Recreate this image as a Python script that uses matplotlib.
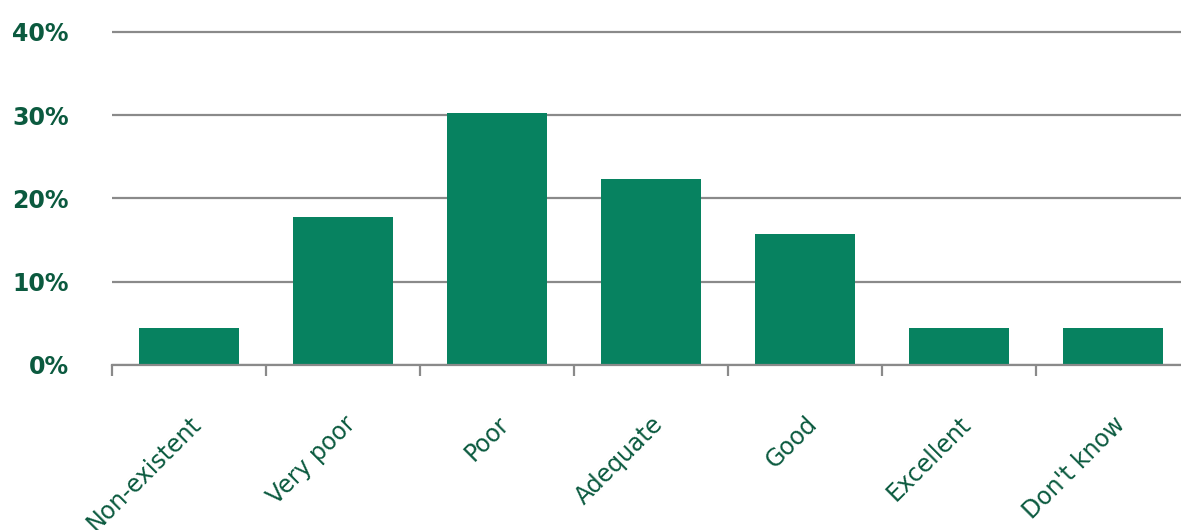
import numpy as np
import matplotlib.pyplot as plt

categorias = ['Non-existent', 'Very poor', 'Poor', 'Adequate', 'Good', 'Excellent', "Don't know"]
percentuais = [4.4, 17.8, 30.3, 22.4, 15.7, 4.4, 4.4]
ticks_y = [0, 10, 20, 30, 40]

verde_barra = '#078260'
verde_texto = '#0b5a3f'
cinza = '#8a8a8a'

y_max = 41
fig = plt.figure(figsize=(11.81, 5.30), dpi=100)
# eixo um pouco mais largo que a figura: a ultima divisao fica cortada na borda
ax = fig.add_axes([112 / 1181, 165 / 530, 1078 / 1181, 333 * y_max / 40 / 530])

x = np.arange(len(categorias))
ax.bar(x, percentuais, width=0.65, color=verde_barra, zorder=3)

ax.set_xlim(-0.5, len(categorias) - 0.5)
ax.set_ylim(0, y_max)
ax.set_yticks(ticks_y)
ax.set_yticklabels([f'{v}%' for v in ticks_y], fontsize=17, fontweight='bold',
                   color=verde_texto)
ax.yaxis.grid(True, color=cinza, linewidth=1.6, zorder=0)
ax.tick_params(axis='y', length=0, pad=31)

ax.set_xticks(x)
ax.set_xticklabels(categorias, rotation=45, ha='right', rotation_mode='anchor',
                   fontsize=17, color=verde_texto)
ax.tick_params(axis='x', which='major', length=0, pad=34)
ax.set_xticks(np.arange(len(categorias) + 1) - 0.5, minor=True)
ax.tick_params(axis='x', which='minor', length=8, width=1.6, color=cinza)

for lado in ['top', 'right', 'left']:
    ax.spines[lado].set_visible(False)
ax.spines['bottom'].set_color(cinza)
ax.spines['bottom'].set_linewidth(1.6)
ax.spines['bottom'].set_zorder(4)

plt.savefig('out.png', dpi=100)
